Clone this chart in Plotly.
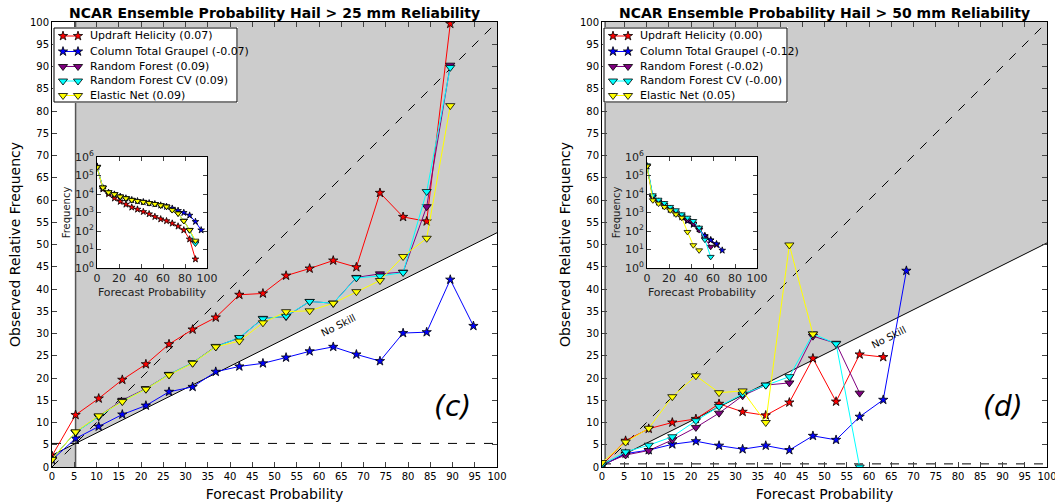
import plotly.graph_objects as go

# ---------------------------------------------------------------- data
# forecast-probability bin centres (%)
bins = [0.0, 5.3, 10.5, 15.8, 21.1, 26.3, 31.6, 36.8, 42.1, 47.4,
        52.6, 57.9, 63.2, 68.4, 73.7, 78.9, 84.2, 89.5, 94.7]

names = ["Updraft Helicity", "Column Total Graupel", "Random Forest",
         "Random Forest CV", "Elastic Net"]

# panel (c): hail > 25 mm
skill_c = ["0.07", "-0.07", "0.09", "0.09", "0.09"]
clim_c = 5.3
obs_uh_c = [2.5, 11.7, 15.4, 19.6, 23.1, 27.6, 30.9, 33.6, 38.7, 39.0,
            43.0, 44.6, 46.4, 44.9, 61.6, 56.2, 55.2, 99.6]
obs_ctg_c = [1.6, 6.4, 9.1, 11.8, 13.8, 16.9, 18.0, 21.4, 22.6, 23.3,
             24.6, 26.0, 27.0, 25.3, 23.8, 30.1, 30.3, 42.1, 31.7]
obs_rf_c = [1.8, 7.8, 11.4, 15.0, 17.6, 20.8, 23.4, 27.1, 29.0, 33.4,
            33.8, 37.2, 36.8, 42.6, 43.4, 43.8, 58.5, 90.3]
obs_rfcv_c = [1.8, 7.8, 11.3, 14.8, 17.5, 20.8, 23.4, 27.0, 29.1, 33.3,
              33.9, 37.2, 36.8, 42.5, 42.9, 43.7, 61.9, 89.8]
obs_en_c = [1.7, 7.9, 11.5, 14.7, 17.5, 20.7, 23.3, 27.0, 28.3, 32.4,
            34.9, 35.1, 36.8, 39.4, 41.9, 47.3, 51.4, 81.2]

freq_uh_c = [309000, 18200, 10000, 5890, 3890, 2750, 1910, 1480, 1100, 830,
             590, 440, 350, 260, 180, 112, 36, 3]
freq_ctg_c = [309000, 21400, 12000, 9550, 7240, 5890, 4790, 4170, 3720, 3240,
              2880, 2450, 2090, 1660, 1260, 980, 700, 320, 112]
freq_rf_c = [282000, 22400, 12300, 9770, 7240, 5890, 4790, 4170, 3720, 3240,
             2880, 2450, 2090, 1400, 920, 360, 115, 25]
freq_rfcv_c = [282000, 22400, 12300, 9770, 7240, 5890, 4790, 4170, 3720, 3240,
               2880, 2450, 2090, 1380, 900, 350, 110, 21]
freq_en_c = [282000, 22400, 12300, 9770, 7240, 5890, 4790, 4170, 3720, 3240,
             2880, 2450, 2090, 1350, 890, 350, 112, 30]

# panel (d): hail > 50 mm
skill_d = ["0.00", "-0.12", "-0.02", "-0.00", "0.05"]
clim_d = 0.7
obs_uh_d = [0.4, 5.9, 8.6, 10.0, 10.8, 14.2, 12.4, 11.6, 14.5, 24.4,
            14.7, 25.3, 24.7]
obs_ctg_d = [0.3, 3.0, 3.8, 5.1, 5.8, 4.8, 4.0, 4.8, 3.8, 7.0,
             6.1, 11.3, 15.1, 44.1]
obs_rf_d = [0.5, 2.7, 3.7, 6.1, 8.9, 12.1, 16.0, 18.4, 18.9, 29.4,
            27.8, 16.6]
obs_rfcv_d = [0.5, 3.4, 4.9, 6.8, 10.4, 13.6, 16.4, 18.4, 20.3, 29.9,
              27.7, 0.0]
obs_en_d = [1.0, 5.6, 8.7, 15.8, 20.5, 16.7, 17.1, 10.0, 49.9, 29.9]

freq_uh_d = [316000, 7080, 3980, 2510, 1580, 1000, 631, 398, 251, 126,
             50, 32, 18]
freq_ctg_d = [316000, 6310, 3550, 2240, 1410, 891, 562, 355, 224, 126,
              56, 32, 20, 9]
freq_rf_d = [316000, 7080, 3980, 2510, 1580, 1000, 631, 398, 251, 112,
             40, 14]
freq_rfcv_d = [355000, 8500, 4900, 3240, 2000, 1320, 794, 525, 347, 151,
               34, 4]
freq_en_d = [316000, 4570, 3020, 2000, 1320, 794, 525, 89, 17, 9]

main_ticks = list(range(0, 101, 5))
inset_xticks = [0, 20, 40, 60, 80, 100]
inset_yticks = [1, 10, 100, 1000, 10000, 100000, 1000000]
inset_yticktext = ["10<sup>%d</sup>" % k for k in range(7)]

# ---------------------------------------------------------------- styles
colors = ["red", "blue", "purple", "cyan", "yellow"]
symbols = ["star", "star", "triangle-down", "triangle-down", "triangle-down"]
FONT = "DejaVu Sans"
GRAY = "#cccccc"
W, H = 1055, 502

fig = go.Figure()
annotations = []


def marker(k, big):
    if big:
        size = 7 if k < 2 else 8
    else:
        size = 5 if k < 2 else 6
    return dict(symbol=symbols[k], size=size, color=colors[k],
                line=dict(color="black", width=0.8))


def add_panel(xa, ya, xi, yi, xl, yl, clim, obs, freq, skills):
    # skill shading: above the no-skill line right of climatology,
    # below it left of climatology
    ns = lambda x: (x + clim) / 2.0
    fig.add_trace(go.Scatter(
        x=[clim, 100, 100, clim, clim], y=[ns(clim), ns(100), 100, 100, ns(clim)],
        fill="toself", fillcolor=GRAY, line=dict(width=0), mode="lines",
        hoverinfo="skip", showlegend=False, xaxis=xa, yaxis=ya))
    fig.add_trace(go.Scatter(
        x=[0, clim, clim, 0, 0], y=[0, 0, ns(clim), ns(0), 0],
        fill="toself", fillcolor=GRAY, line=dict(width=0), mode="lines",
        hoverinfo="skip", showlegend=False, xaxis=xa, yaxis=ya))
    # reference lines: perfect reliability, climatology, no skill
    fig.add_trace(go.Scatter(x=[0, 100], y=[0, 100], mode="lines",
                             line=dict(color="black", width=1, dash="dash"),
                             showlegend=False, hoverinfo="skip", xaxis=xa, yaxis=ya))
    fig.add_trace(go.Scatter(x=[0, 100], y=[clim, clim], mode="lines",
                             line=dict(color="black", width=1, dash="dash"),
                             showlegend=False, hoverinfo="skip", xaxis=xa, yaxis=ya))
    fig.add_trace(go.Scatter(x=[clim, clim], y=[0, 100], mode="lines",
                             line=dict(color="#555555", width=1.5),
                             showlegend=False, hoverinfo="skip", xaxis=xa, yaxis=ya))
    fig.add_trace(go.Scatter(x=[0, 100], y=[ns(0), ns(100)], mode="lines",
                             line=dict(color="black", width=1),
                             showlegend=False, hoverinfo="skip", xaxis=xa, yaxis=ya))
    # reliability curves
    for k in range(5):
        fig.add_trace(go.Scatter(
            x=bins[:len(obs[k])], y=obs[k], mode="lines+markers",
            line=dict(color=colors[k], width=1), marker=marker(k, True),
            showlegend=False, xaxis=xa, yaxis=ya))
    # frequency inset
    for k in range(5):
        fig.add_trace(go.Scatter(
            x=bins[:len(freq[k])], y=freq[k], mode="lines+markers",
            line=dict(color=colors[k], width=1), marker=marker(k, False),
            showlegend=False, xaxis=xi, yaxis=yi))
    # legend box (its own pixel-unit axes)
    fig.add_trace(go.Scatter(
        x=[0, 183, 183, 0, 0], y=[0, 0, 74, 74, 0], mode="lines",
        fill="toself", fillcolor="white", line=dict(color="black", width=1),
        hoverinfo="skip", showlegend=False, xaxis=xl, yaxis=yl))
    rows = [8, 23.5, 38.5, 53, 67.5]
    for k in range(5):
        fig.add_trace(go.Scatter(
            x=[9, 24], y=[rows[k], rows[k]], mode="lines+markers",
            line=dict(color=colors[k], width=1), marker=marker(k, True),
            hoverinfo="skip", showlegend=False, xaxis=xl, yaxis=yl))
        annotations.append(dict(
            text="%s (%s)" % (names[k], skills[k]), x=34, y=rows[k],
            xref=xl, yref=yl, xanchor="left", yanchor="middle", showarrow=False,
            font=dict(family=FONT, size=11, color="black")))


add_panel("x", "y", "x3", "y3", "x5", "y5", clim_c,
          [obs_uh_c, obs_ctg_c, obs_rf_c, obs_rfcv_c, obs_en_c],
          [freq_uh_c, freq_ctg_c, freq_rf_c, freq_rfcv_c, freq_en_c],
          skill_c)
add_panel("x2", "y2", "x4", "y4", "x6", "y6", clim_d,
          [obs_uh_d, obs_ctg_d, obs_rf_d, obs_rfcv_d, obs_en_d],
          [freq_uh_d, freq_ctg_d, freq_rf_d, freq_rfcv_d, freq_en_d],
          skill_d)


def px(a, b):
    return [a / W, b / W]


def py(top, bottom):
    return [1 - bottom / H, 1 - top / H]


main_axis = dict(range=[0, 100], tickvals=main_ticks, ticks="inside", ticklen=5,
                 showline=True, mirror="ticks", linecolor="black", linewidth=1,
                 showgrid=False, zeroline=False, automargin=False,
                 ticklabeloverflow="allow",
                 tickfont=dict(family=FONT, size=10, color="black"))
inset_x = dict(range=[0, 100], tickvals=inset_xticks, ticks="inside", ticklen=4,
               showline=True, mirror="ticks", linecolor="black", linewidth=1,
               showgrid=False, zeroline=False, automargin=False,
               tickfont=dict(family=FONT, size=11, color="#222222"),
               title=dict(text="Forecast Probability", standoff=4,
                          font=dict(family=FONT, size=11, color="#222222")))
inset_y = dict(type="log", range=[0, 6], tickvals=inset_yticks, ticktext=inset_yticktext,
               ticks="inside", ticklen=4, showline=True, mirror="ticks",
               linecolor="black", linewidth=1, showgrid=False, zeroline=False,
               automargin=False, tickfont=dict(family=FONT, size=11, color="#222222"),
               title=dict(text="Frequency", standoff=2,
                          font=dict(family=FONT, size=10, color="#222222")))
legend_x = dict(range=[-1, 184], visible=False, fixedrange=True)
legend_y = dict(range=[75, -1], visible=False, fixedrange=True)

xtitle = dict(text="Forecast Probability", standoff=8,
              font=dict(family=FONT, size=14, color="black"))
ytitle = dict(text="Observed Relative Frequency", standoff=6,
              font=dict(family=FONT, size=14, color="black"))

fig.update_layout(
    width=W, height=H, autosize=False,
    margin=dict(l=0, r=0, t=0, b=0),
    paper_bgcolor="white", plot_bgcolor="white", showlegend=False,
    xaxis=dict(main_axis, domain=px(52, 497), anchor="y", title=xtitle),
    yaxis=dict(main_axis, domain=py(22, 467), anchor="x", title=ytitle),
    xaxis2=dict(main_axis, domain=px(602, 1047), anchor="y2", title=xtitle),
    yaxis2=dict(main_axis, domain=py(22, 467), anchor="x2", title=ytitle),
    xaxis3=dict(inset_x, domain=px(97, 207), anchor="y3"),
    yaxis3=dict(inset_y, domain=py(157, 268), anchor="x3"),
    xaxis4=dict(inset_x, domain=px(647, 757), anchor="y4"),
    yaxis4=dict(inset_y, domain=py(157, 268), anchor="x4"),
    xaxis5=dict(legend_x, domain=px(53, 238), anchor="y5"),
    yaxis5=dict(legend_y, domain=py(27, 103), anchor="x5"),
    xaxis6=dict(legend_x, domain=px(603, 788), anchor="y6"),
    yaxis6=dict(legend_y, domain=py(27, 103), anchor="x6"),
)

annotations += [
    dict(text="<b>NCAR Ensemble Probability Hail > 25 mm Reliability</b>",
         x=274.5 / W, y=1 - 13 / H, xref="paper", yref="paper", showarrow=False,
         xanchor="center", yanchor="middle",
         font=dict(family=FONT, size=14, color="black")),
    dict(text="<b>NCAR Ensemble Probability Hail > 50 mm Reliability</b>",
         x=824.5 / W, y=1 - 13 / H, xref="paper", yref="paper", showarrow=False,
         xanchor="center", yanchor="middle",
         font=dict(family=FONT, size=14, color="black")),
    dict(text="<i>(c)</i>", x=90, y=13.5, xref="x", yref="y", showarrow=False,
         font=dict(family=FONT, size=28, color="black")),
    dict(text="<i>(d)</i>", x=90, y=13.5, xref="x2", yref="y2", showarrow=False,
         font=dict(family=FONT, size=28, color="black")),
    dict(text="No Skill", x=64.3, y=31.7, xref="x", yref="y", showarrow=False,
         textangle=-26.57, font=dict(family=FONT, size=10, color="black")),
    dict(text="No Skill", x=64.3, y=29.2, xref="x2", yref="y2", showarrow=False,
         textangle=-26.57, font=dict(family=FONT, size=10, color="black")),
]
fig.update_layout(annotations=annotations)

fig.write_html("out.html")
